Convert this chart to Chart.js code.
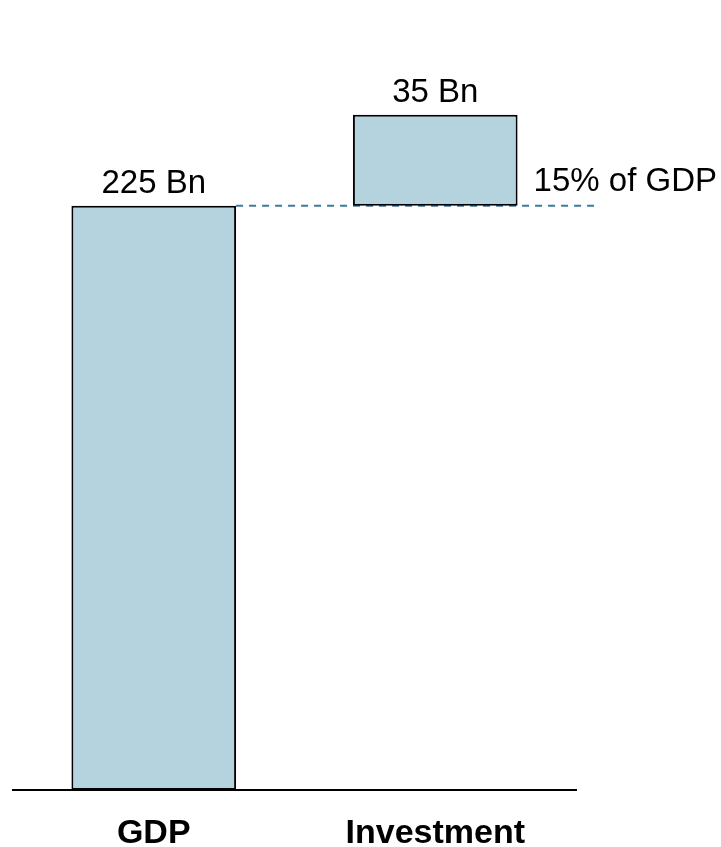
<!DOCTYPE html>
<html>
<head>
<meta charset="utf-8">
<title>GDP and Investment</title>
<script src="https://cdn.jsdelivr.net/npm/chart.js@4.4.1/dist/chart.umd.min.js"></script>
<style>
  html, body { margin: 0; padding: 0; background: #ffffff; }
  #wrap { width: 721px; height: 847px; position: relative; }
</style>
</head>
<body>
<div id="wrap"><canvas id="chart"></canvas></div>
<script>
// Categories and values (billions)
const categories = ['GDP', 'Investment'];
const values = [225, 35];
const valueLabels = ['225 Bn', '35 Bn'];
const shareLabel = '15% of GDP';

// Waterfall: each bar starts where the previous one ended
const bases = [0, values[0]];
const floating = values.map((v, i) => [bases[i], bases[i] + v]);

const FONT = '"Liberation Sans", Arial, Helvetica, sans-serif';

const annotations = {
  id: 'annotations',
  beforeDatasetsDraw(chart) {
    const ctx = chart.ctx;
    const meta = chart.getDatasetMeta(0);
    const y = chart.scales.y.getPixelForValue(values[0]);
    const gdpBar = meta.data[0];
    const invBar = meta.data[1];
    const x0 = gdpBar.x + gdpBar.width / 2;
    const x1 = invBar.x + invBar.width / 2 + 78;
    ctx.save();
    ctx.strokeStyle = '#3f7a99';
    ctx.lineWidth = 2;
    ctx.setLineDash([7, 6]);
    ctx.beginPath();
    ctx.moveTo(x0, y);
    ctx.lineTo(x1, y);
    ctx.stroke();
    ctx.restore();
  },
  afterDatasetsDraw(chart) {
    const ctx = chart.ctx;
    const meta = chart.getDatasetMeta(0);
    ctx.save();
    ctx.fillStyle = '#000000';
    ctx.font = '33px ' + FONT;
    ctx.textBaseline = 'alphabetic';
    ctx.textAlign = 'center';
    meta.data.forEach((bar, i) => {
      ctx.fillText(valueLabels[i], bar.x, bar.y - 13);
    });
    const invBar = meta.data[1];
    const y = chart.scales.y.getPixelForValue(values[0]);
    ctx.textAlign = 'left';
    ctx.fillText(shareLabel, invBar.x + invBar.width / 2 + 16, y - 15);
    ctx.restore();
  }
};

new Chart(document.getElementById('chart'), {
  type: 'bar',
  data: {
    labels: categories,
    datasets: [{
      data: floating,
      backgroundColor: '#b4d3de',
      borderColor: '#000000',
      borderWidth: 2,
      borderSkipped: false,
      categoryPercentage: 0.585,
      barPercentage: 1
    }]
  },
  options: {
    responsive: true,
    maintainAspectRatio: false,
    animation: false,
    layout: { padding: { top: 11, left: 13, right: 145, bottom: 0 } },
    plugins: {
      legend: { display: false },
      tooltip: { enabled: false }
    },
    scales: {
      x: {
        grid: { display: false, drawTicks: false },
        border: { display: true, color: '#000000', width: 2 },
        afterFit(scale) { scale.height = 57; },
        ticks: {
          color: '#000000',
          padding: 30,
          font: { family: FONT, size: 34, weight: 'bold', lineHeight: 0.8 }
        }
      },
      y: {
        display: false,
        min: 0,
        max: 300
      }
    }
  },
  plugins: [annotations]
});
</script>
</body>
</html>
